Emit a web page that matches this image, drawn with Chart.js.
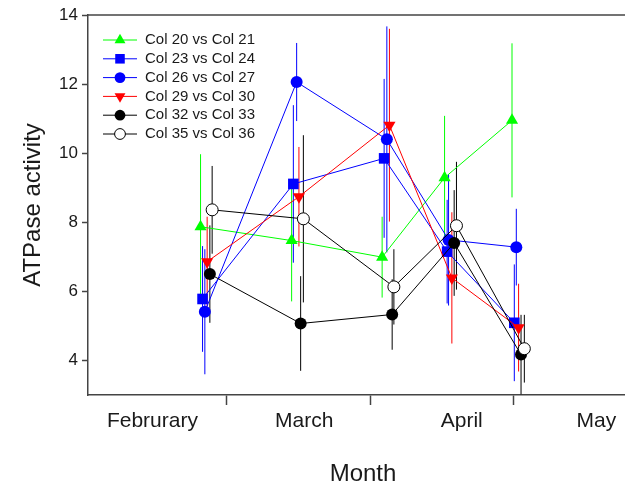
<!DOCTYPE html>
<html>
<head>
<meta charset="utf-8">
<script src="https://cdn.jsdelivr.net/npm/chart.js@4.4.1/dist/chart.umd.min.js"></script>
<style>
  html, body { margin: 0; padding: 0; background: #fff; }
  #wrap { width: 625px; height: 486px; }
</style>
</head>
<body>
<div id="wrap"><canvas id="chart" width="625" height="486"></canvas></div>
<script>
// Legende / Serien
const seriesNames = ["Col 20 vs Col 21", "Col 23 vs Col 24", "Col 26 vs Col 27",
                     "Col 29 vs Col 30", "Col 32 vs Col 33", "Col 35 vs Col 36"];

// x-Werte: Probenahme in Monaten (3 = 1. März, 4 = 1. April, 5 = 1. Mai)
const xCol20 = [2.816, 3.452, 4.084, 4.520, 4.991];
const xCol23 = [2.830, 3.464, 4.098, 4.538, 5.007];
const xCol26 = [2.846, 3.487, 4.117, 4.548, 5.021];
const xCol29 = [2.862, 3.503, 4.135, 4.571, 5.037];
const xCol32 = [2.881, 3.515, 4.154, 4.587, 5.054];
const xCol35 = [2.897, 3.534, 4.166, 4.603, 5.077];

// Mittelwerte ATPase-Aktivität
const yCol20 = [7.87, 7.47, 6.99, 9.29, 10.95];
const yCol23 = [5.78, 9.11, 9.85, 7.15, 5.09];
const yCol26 = [5.41, 12.06, 10.40, 7.49, 7.28];
const yCol29 = [6.86, 8.74, 10.81, 6.39, 4.95];
const yCol32 = [6.50, 5.07, 5.33, 7.40, 4.17];
const yCol35 = [8.36, 8.10, 6.13, 7.90, 4.34];

// Fehlerbalken (+/-)
const eCol20 = [2.10, 1.76, 1.17, 1.79, 2.23];
const eCol23 = [1.53, 2.28, 2.30, 1.50, 1.69];
const eCol26 = [1.81, 1.13, 3.27, 1.90, 1.11];
const eCol29 = [1.30, 1.44, 2.79, 1.90, 1.27];
const eCol32 = [1.41, 1.37, 1.02, 1.53, 1.15];
const eCol35 = [1.27, 2.42, 1.09, 1.85, 0.98];

// Achsen
const monthLabels = ["Februrary", "March", "April", "May"];
const monthLabelPos = [2.48, 3.54, 4.64, 5.58];
const monthBounds = [3, 4, 5];
const yTicks = [4, 6, 8, 10, 12, 14];
const xTitle = "Month";
const yTitle = "ATPase activity";

const FONT = '"Liberation Sans", Arial, Helvetica, sans-serif';
const AXIS_COLOR = "#444";
const PLOT_RIGHT = 625; // Diagrammfläche geht bis zum rechten Rand

const xs = [xCol20, xCol23, xCol26, xCol29, xCol32, xCol35];
const ys = [yCol20, yCol23, yCol26, yCol29, yCol32, yCol35];
const es = [eCol20, eCol23, eCol26, eCol29, eCol32, eCol35];

const styles = [
  { color: "#00ff00", pointStyle: "triangle", radius: 7, rotation: 0, fill: "#00ff00" },
  { color: "#0000ff", pointStyle: "rect", radius: 7.5, rotation: 0, fill: "#0000ff" },
  { color: "#0000ff", pointStyle: "circle", radius: 6, rotation: 0, fill: "#0000ff" },
  { color: "#ff0000", pointStyle: "triangle", radius: 7, rotation: 180, fill: "#ff0000" },
  { color: "#000000", pointStyle: "circle", radius: 6, rotation: 0, fill: "#000000" },
  { color: "#000000", pointStyle: "circle", radius: 6, rotation: 0, fill: "#ffffff" },
];

const datasets = seriesNames.map((name, i) => ({
  label: name,
  data: xs[i].map((x, j) => ({ x: x, y: ys[i][j], err: es[i][j] })),
  showLine: true,
  borderColor: styles[i].color,
  borderWidth: 1,
  pointStyle: styles[i].pointStyle,
  pointRotation: styles[i].rotation,
  pointRadius: styles[i].radius,
  pointHoverRadius: styles[i].radius,
  pointBackgroundColor: styles[i].fill,
  pointBorderColor: styles[i].color,
  pointBorderWidth: i === 5 ? 1 : 0,
  order: seriesNames.length - i, // spätere Serien oben
}));

// Fehlerbalken vor den Datensätzen zeichnen
const errorBars = {
  id: "errorBars",
  beforeDatasetsDraw(chart) {
    const { ctx, scales: { x, y } } = chart;
    ctx.save();
    ctx.lineWidth = 1;
    chart.data.datasets.forEach((ds, i) => {
      ctx.strokeStyle = styles[i].color;
      ds.data.forEach(p => {
        const px = x.getPixelForValue(p.x);
        ctx.beginPath();
        ctx.moveTo(px, y.getPixelForValue(p.y + p.err));
        ctx.lineTo(px, y.getPixelForValue(p.y - p.err));
        ctx.stroke();
      });
    });
    ctx.restore();
  },
};

// Rahmenlinie oben, x-Titel + Legende mit Linie und Symbol
const frameAndLegend = {
  id: "frameAndLegend",
  afterDraw(chart) {
    const { ctx, chartArea } = chart;
    ctx.save();
    ctx.strokeStyle = AXIS_COLOR;
    ctx.lineWidth = 1.5;
    ctx.beginPath();
    ctx.moveTo(chartArea.left - 0.75, chartArea.top);
    ctx.lineTo(chartArea.right, chartArea.top);
    ctx.stroke();

    // x-Achsentitel (im Original etwas rechts der Mitte)
    ctx.fillStyle = "#1a1a1a";
    ctx.font = "24px " + FONT;
    ctx.textAlign = "center";
    ctx.textBaseline = "alphabetic";
    ctx.fillText(xTitle, 363, 481);

    const x0 = 103, x1 = 137, tx = 145;
    seriesNames.forEach((name, i) => {
      const yy = 40 + i * 18.8;
      const st = styles[i];
      ctx.strokeStyle = st.color;
      ctx.lineWidth = 1;
      ctx.beginPath();
      ctx.moveTo(x0, yy);
      ctx.lineTo(x1, yy);
      ctx.stroke();
      ctx.fillStyle = st.fill;
      ctx.strokeStyle = st.color;
      Chart.helpers.drawPoint(ctx, {
        pointStyle: st.pointStyle, rotation: st.rotation,
        radius: st.radius * 0.9, borderWidth: i === 5 ? 1 : 0,
      }, (x0 + x1) / 2, yy);
      ctx.fillStyle = "#1a1a1a";
      ctx.font = "15px " + FONT;
      ctx.textAlign = "left";
      ctx.textBaseline = "middle";
      ctx.fillText(name, tx, yy);
    });
    ctx.restore();
  },
};

const chart = new Chart(document.getElementById("chart"), {
  type: "scatter",
  data: { datasets },
  options: {
    responsive: false,
    animation: false,
    layout: { autoPadding: false, padding: { top: 15, right: 0, left: 0, bottom: 0 } },
    plugins: { legend: { display: false }, tooltip: { enabled: false } },
    scales: {
      x: {
        type: "linear",
        min: 2.03,
        max: 5.78,
        afterFit: s => { s.height = 91; s.paddingLeft = 0; s.paddingRight = 0; },
        afterBuildTicks: s => {
          s.ticks = monthLabelPos.concat(monthBounds).sort((a, b) => a - b).map(v => ({ value: v }));
        },
        ticks: {
          autoSkip: false,
          maxRotation: 0,
          padding: 4,
          color: "#1a1a1a",
          font: { family: FONT, size: 21 },
          callback: v => {
            const k = monthLabelPos.indexOf(v);
            return k >= 0 ? monthLabels[k] : "";
          },
        },
        grid: {
          drawOnChartArea: false,
          drawTicks: true,
          tickLength: 10,
          tickWidth: 1.5,
          tickColor: c => (c.tick && monthBounds.includes(c.tick.value)) ? AXIS_COLOR : "rgba(0,0,0,0)",
        },
        border: { display: true, color: AXIS_COLOR, width: 1.5 },
        title: { display: false },
      },
      y: {
        min: 3,
        max: 14,
        afterFit: s => { s.width = 88; s.paddingTop = 0; s.paddingBottom = 0; },
        afterBuildTicks: s => { s.ticks = yTicks.map(v => ({ value: v })); },
        ticks: {
          padding: 4,
          color: "#1a1a1a",
          font: { family: FONT, size: 17 },
        },
        grid: {
          drawOnChartArea: false,
          drawTicks: true,
          tickLength: 6,
          tickWidth: 1.5,
          tickColor: AXIS_COLOR,
        },
        border: { display: true, color: AXIS_COLOR, width: 1.5 },
        title: {
          display: true,
          text: yTitle,
          color: "#1a1a1a",
          font: { family: FONT, size: 24 },
          padding: { top: 19, bottom: 0 },
        },
      },
    },
  },
  plugins: [errorBars, frameAndLegend],
});

// falls Chart.js rechts doch Platz reserviert: nachkorrigieren
const gap = PLOT_RIGHT - chart.chartArea.right;
if (Math.abs(gap) > 0.5) {
  chart.options.layout.padding.right = -gap;
  chart.update();
}
</script>
</body>
</html>
